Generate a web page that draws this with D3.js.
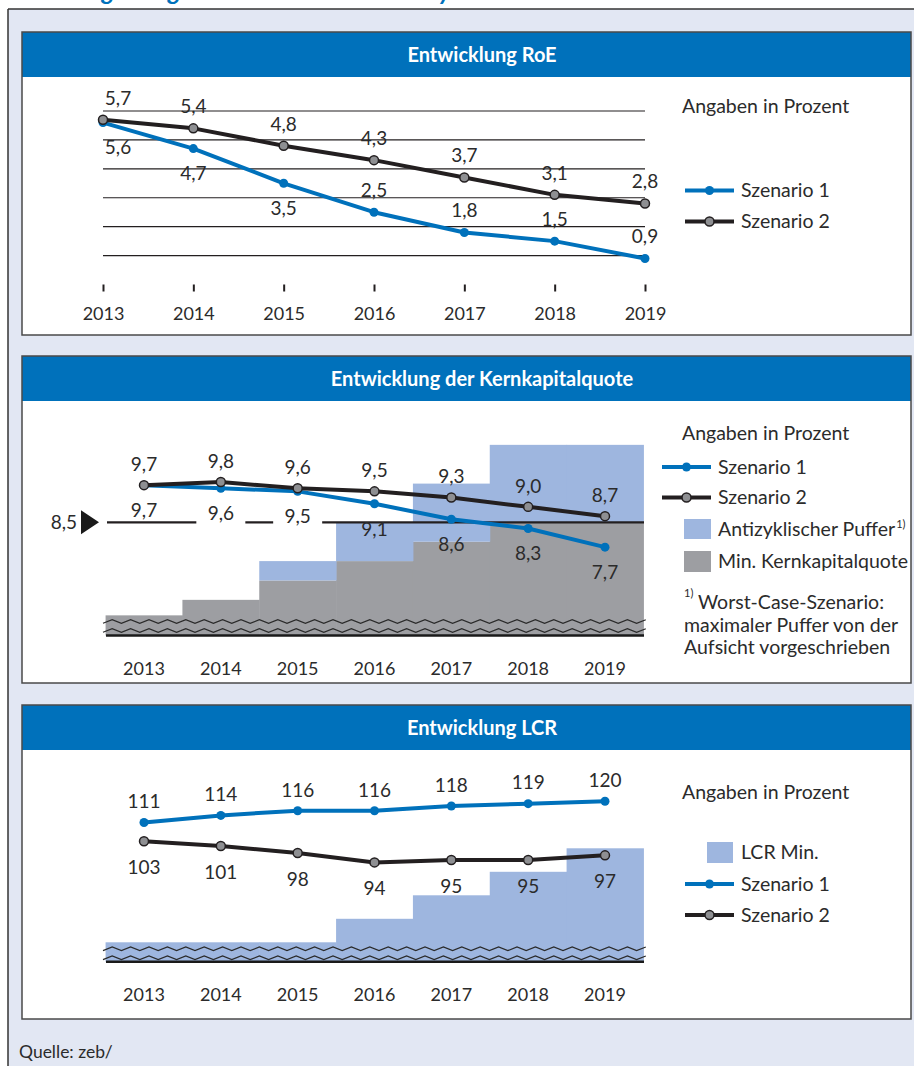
<!DOCTYPE html>
<html><head><meta charset="utf-8">
<script src="https://cdn.jsdelivr.net/npm/d3@7"></script>
<style>
html,body{margin:0;padding:0;background:#fff;}
svg{display:block;font-family:Lato,'Open Sans',sans-serif;}
</style>
</head><body>
<svg id="c" width="914" height="1066"></svg>
<script>
// ---------- data ----------
const years = ["2013","2014","2015","2016","2017","2018","2019"];
// RoE (%)
const roeS1 = [5.6, 4.7, 3.5, 2.5, 1.8, 1.5, 0.9];
const roeS2 = [5.7, 5.4, 4.8, 4.3, 3.7, 3.1, 2.8];
const roeGrid = [1, 2, 3, 4, 5, 6];
// Kernkapitalquote (%)
const kernS1 = [9.7, 9.6, 9.5, 9.1, 8.6, 8.3, 7.7];
const kernS2 = [9.7, 9.8, 9.6, 9.5, 9.3, 9.0, 8.7];
const kernMin = [5.5, 6.0, 6.625, 7.25, 7.875, 8.5, 8.5];
const kernPuffer = [0, 0, 0.625, 1.25, 1.875, 2.5, 2.5];
const kernRef = 8.5;
// LCR (%)
const lcrS1 = [111, 114, 116, 116, 118, 119, 120];
const lcrS2 = [103, 101, 98, 94, 95, 95, 97];
const lcrMin = [60, 60, 60, 70, 80, 90, 100];

// ---------- helpers ----------
const loc = d3.formatLocale({decimal: ",", thousands: ".", grouping: [3], currency: ["", "€"]});
const f1 = loc.format(".1f");
const f0 = loc.format("d");
const C = {
  blue: "#0071bb", dark: "#231f20", marker: "#8e8f92",
  barBlue: "#9eb6df", barGray: "#9d9ea2", bg: "#e2e7f3",
  text: "#2b2b2b", border: "#4a4a4a"
};
const FS = {num: 19, leg: 19.5, year: 18, title: 20};
const svg = d3.select("#c");

// top title (cut off by the page edge in the reference)
const tt = svg.append("text")
  .attr("x", 0).attr("y", 0)
  .attr("font-size", 18).attr("font-weight", 700).attr("font-style", "italic")
  .attr("fill", C.blue)
  .text("Abbildung 2: Ergebnisse der Szenarioanalyse");
(function fitTitle() {
  const node = tt.node();
  const e8 = node.getExtentOfChar(8), e40 = node.getExtentOfChar(40);
  const c8 = e8.x + e8.width / 2, c40 = e40.x + e40.width / 2;
  const s = (445 - 108) / (c40 - c8);
  tt.attr("font-size", 18 * s).attr("x", 108 - c8 * s).attr("y", -0.5);
})();

// frame
svg.append("rect").attr("x", 8).attr("y", 9).attr("width", 906).attr("height", 1057).attr("fill", C.bg);
svg.append("line").attr("x1", 8).attr("x2", 914).attr("y1", 9).attr("y2", 9).attr("stroke", "#333").attr("stroke-width", 1.5);
svg.append("line").attr("x1", 8).attr("x2", 8).attr("y1", 9).attr("y2", 1066).attr("stroke", "#333").attr("stroke-width", 1.5);

svg.append("text").attr("x", 19).attr("y", 1058).attr("font-size", 17.5).attr("fill", C.text).text("Quelle: zeb/");

function panel(top, bottom, title) {
  const g = svg.append("g");
  g.append("rect").attr("x", 22).attr("y", top).attr("width", 889).attr("height", bottom - top).attr("fill", "#fff");
  g.append("rect").attr("x", 22).attr("y", top).attr("width", 889).attr("height", 45).attr("fill", C.blue);
  g.append("rect").attr("x", 22).attr("y", top).attr("width", 889).attr("height", bottom - top)
    .attr("fill", "none").attr("stroke", C.border).attr("stroke-width", 1.5);
  g.append("text").attr("x", 482).attr("y", top + 23).attr("dy", "0.36em")
    .attr("text-anchor", "middle").attr("font-size", FS.title).attr("font-weight", 700).attr("fill", "#fff").text(title);
  return svg.append("g");
}

function label(g, x, y, t, anchor, fs) {
  return g.append("text").attr("x", x).attr("y", y).attr("dy", "0.36em")
    .attr("text-anchor", anchor || "middle").attr("font-size", fs || FS.num).attr("fill", C.text).text(t);
}

function legendLine(g, x0, x1, y, isS2) {
  g.append("line").attr("x1", x0).attr("x2", x1).attr("y1", y).attr("y2", y)
    .attr("stroke", isS2 ? C.dark : C.blue).attr("stroke-width", 4);
  g.append("circle").attr("cx", (x0 + x1) / 2).attr("cy", y).attr("r", 4.5)
    .attr("fill", isS2 ? C.marker : C.blue).attr("stroke", isS2 ? C.dark : "none").attr("stroke-width", 1.5);
}

function drawSeries(g, data, x, y, isS2) {
  const line = d3.line().x((d, i) => x(years[i])).y(d => y(d));
  g.append("path").datum(data).attr("d", line).attr("fill", "none")
    .attr("stroke", isS2 ? C.dark : C.blue).attr("stroke-width", 4).attr("stroke-linejoin", "round");
  g.selectAll(null).data(data).join("circle")
    .attr("cx", (d, i) => x(years[i])).attr("cy", d => y(d)).attr("r", 4.5)
    .attr("fill", isS2 ? C.marker : C.blue)
    .attr("stroke", isS2 ? C.dark : "none").attr("stroke-width", 1.5);
}

function zigzag(g, x0, x1, yc) {
  const pts = d3.range(x0, x1 + 0.01, 9.2).map((xx, k) => [xx, yc + (k % 2 ? -1.8 : 1.8)]);
  g.append("path").attr("d", d3.line()(pts)).attr("fill", "none").attr("stroke", "#2a2a2a").attr("stroke-width", 1.2);
}

// ---------- Panel 1: RoE ----------
{
  const g = panel(32, 335, "Entwicklung RoE");
  const x = d3.scalePoint(years, [103, 645]);
  const y = d3.scaleLinear([0, 6], [284.5, 111]);
  g.selectAll(null).data(roeGrid).join("line")
    .attr("x1", 103).attr("x2", 645).attr("y1", d => y(d)).attr("y2", d => y(d))
    .attr("stroke", C.dark).attr("stroke-width", 1.2);
  const ax = g.append("g").attr("transform", `translate(0,${y(0)})`)
    .call(d3.axisBottom(x).tickSize(7).tickPadding(16));
  ax.select(".domain").remove();
  ax.selectAll(".tick line").attr("stroke", C.dark).attr("stroke-width", 2);
  ax.selectAll(".tick text").attr("font-size", FS.year).attr("fill", C.text).attr("font-family", "Lato");
  drawSeries(g, roeS1, x, y, false);
  drawSeries(g, roeS2, x, y, true);
  roeS2.forEach((v, i) => label(g, x(years[i]) + (i === 0 ? 15 : 0), y(v) - 22, f1(v)));
  roeS1.forEach((v, i) => label(g, x(years[i]) + (i === 0 ? 15 : 0), y(v) + (i < 3 ? 25 : -22), f1(v)));
  label(g, 682, 106, "Angaben in Prozent", "start", FS.leg);
  legendLine(g, 685, 734, 190.5, false);
  label(g, 741, 190, "Szenario 1", "start", FS.leg);
  legendLine(g, 685, 734, 221.5, true);
  label(g, 741, 221, "Szenario 2", "start", FS.leg);
}

// ---------- Panel 2: Kernkapitalquote ----------
{
  const g = panel(356, 683, "Entwicklung der Kernkapitalquote");
  const x = d3.scalePoint(years, [144, 605]);
  const bw = x.step();
  const y = d3.scaleLinear([4.85, 11], [635.5, 444.85]);
  const base = y.range()[0];
  g.selectAll(null).data(kernMin).join("rect")
    .attr("x", (d, i) => x(years[i]) - bw / 2).attr("width", bw + 0.5)
    .attr("y", d => y(d)).attr("height", d => base - y(d)).attr("fill", C.barGray);
  g.selectAll(null).data(kernPuffer).join("rect")
    .attr("x", (d, i) => x(years[i]) - bw / 2).attr("width", bw + 0.5)
    .attr("y", (d, i) => y(kernMin[i] + d)).attr("height", (d, i) => y(kernMin[i]) - y(kernMin[i] + d))
    .attr("fill", C.barBlue);
  const yr = y(kernRef);
  g.append("line").attr("x1", 107).attr("x2", 644).attr("y1", yr).attr("y2", yr)
    .attr("stroke", C.dark).attr("stroke-width", 2.4);
  kernS1.forEach((v, i) => {
    const ly = y(v) + 25;
    const top = y(kernMin[i] + kernPuffer[i]);
    if (ly + 12 > yr && top > yr + 5) {
      g.append("rect").attr("x", x(years[i]) - 24.5).attr("width", 49).attr("y", yr - 2.5).attr("height", 5).attr("fill", "#fff");
    }
  });
  g.append("path").attr("d", d3.line()([[81, yr - 12], [99, yr], [81, yr + 12]]) + "Z").attr("fill", "#1a1a1a");
  label(g, 77, yr, f1(kernRef), "end");
  zigzag(g, 103, 649, base - 14);
  zigzag(g, 103, 649, base - 5);
  g.append("line").attr("x1", 106).attr("x2", 644).attr("y1", base).attr("y2", base).attr("stroke", "#1a1a1a").attr("stroke-width", 2.5);
  years.forEach(yy => label(g, x(yy), base + 33, yy, "middle", FS.year));
  drawSeries(g, kernS1, x, y, false);
  drawSeries(g, kernS2, x, y, true);
  kernS2.forEach((v, i) => label(g, x(years[i]), y(v) - 21, f1(v)));
  kernS1.forEach((v, i) => label(g, x(years[i]), y(v) + 25, f1(v)));
  label(g, 682, 433, "Angaben in Prozent", "start", FS.leg);
  legendLine(g, 662, 711, 467, false);
  label(g, 718, 467, "Szenario 1", "start", FS.leg);
  legendLine(g, 662, 711, 497.5, true);
  label(g, 718, 497, "Szenario 2", "start", FS.leg);
  g.append("rect").attr("x", 684).attr("y", 519).attr("width", 27).attr("height", 20).attr("fill", C.barBlue);
  const t = label(g, 718, 529, "Antizyklischer Puffer", "start", FS.leg);
  t.append("tspan").attr("font-size", 11).attr("dy", "-0.75em").attr("dx", 1).text("1)");
  g.append("rect").attr("x", 684).attr("y", 551).attr("width", 27).attr("height", 21).attr("fill", C.barGray);
  label(g, 718, 561, "Min. Kernkapitalquote", "start", FS.leg);
  g.append("text").attr("x", 684).attr("y", 597).attr("font-size", 11).attr("fill", C.text).text("1)");
  label(g, 698, 602, "Worst-Case-Szenario:", "start", FS.leg);
  label(g, 684, 624.5, "maximaler Puffer von der", "start", FS.leg);
  label(g, 684, 647, "Aufsicht vorgeschrieben", "start", FS.leg);
}

// ---------- Panel 3: LCR ----------
{
  const g = panel(705, 1019, "Entwicklung LCR");
  const x = d3.scalePoint(years, [144, 605]);
  const bw = x.step();
  const y = d3.scaleLinear([51.7, 120], [961.8, 801.3]);
  const base = y.range()[0];
  g.selectAll(null).data(lcrMin).join("rect")
    .attr("x", (d, i) => x(years[i]) - bw / 2).attr("width", bw + 0.5)
    .attr("y", d => y(d)).attr("height", d => base - y(d)).attr("fill", C.barBlue);
  zigzag(g, 103, 649, base - 13);
  zigzag(g, 103, 649, base - 4);
  g.append("line").attr("x1", 106).attr("x2", 644).attr("y1", base).attr("y2", base).attr("stroke", "#1a1a1a").attr("stroke-width", 2.5);
  years.forEach(yy => label(g, x(yy), base + 33, yy, "middle", FS.year));
  drawSeries(g, lcrS1, x, y, false);
  drawSeries(g, lcrS2, x, y, true);
  lcrS1.forEach((v, i) => label(g, x(years[i]), y(v) - 21, f0(v)));
  lcrS2.forEach((v, i) => label(g, x(years[i]), y(v) + 26, f0(v)));
  label(g, 682, 791.5, "Angaben in Prozent", "start", FS.leg);
  g.append("rect").attr("x", 707).attr("y", 842).attr("width", 26).attr("height", 21).attr("fill", C.barBlue);
  label(g, 741, 852, "LCR Min.", "start", FS.leg);
  legendLine(g, 685, 734, 884, false);
  label(g, 741, 884, "Szenario 1", "start", FS.leg);
  legendLine(g, 685, 734, 915, true);
  label(g, 741, 915, "Szenario 2", "start", FS.leg);
}
</script>
</body></html>
